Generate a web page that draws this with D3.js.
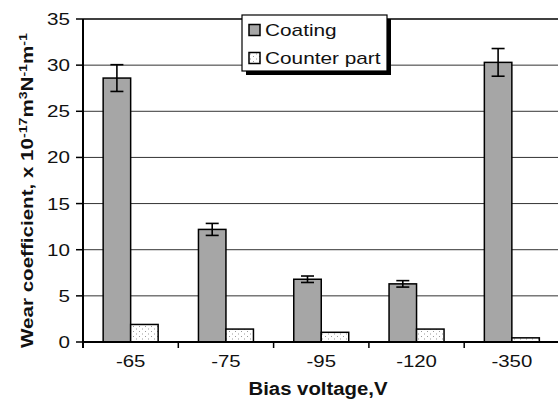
<!DOCTYPE html>
<html>
<head>
<meta charset="utf-8">
<script src="https://cdn.jsdelivr.net/npm/d3@7"></script>
<style>
  body { margin: 0; background: #fff; }
  svg { display: block; }
  text { font-family: "Liberation Sans", Arial, sans-serif; fill: #111; }
</style>
</head>
<body>
<svg id="chart" width="558" height="400"></svg>
<script>
const categories = ["-65", "-75", "-95", "-120", "-350"];
const seriesNames = ["Coating", "Counter part"];
const coating = [28.6, 12.2, 6.8, 6.3, 30.3];
const coatingErr = [1.45, 0.65, 0.35, 0.35, 1.5];
const counterPart = [1.9, 1.4, 1.05, 1.4, 0.45];
const yTicks = [0, 5, 10, 15, 20, 25, 30, 35];

(function () {
const svg = d3.select("#chart");
const pl = 83, pr = 559.5, pt = 19, pb = 342;

const defs = svg.append("defs");
const pat = defs.append("pattern").attr("id", "dots").attr("patternUnits", "userSpaceOnUse")
  .attr("width", 6).attr("height", 5);
pat.append("rect").attr("width", 6).attr("height", 5).attr("fill", "#fff");
pat.append("rect").attr("x", 1).attr("y", 1).attr("width", 1).attr("height", 1).attr("fill", "#999");
pat.append("rect").attr("x", 4).attr("y", 3.5).attr("width", 1).attr("height", 1).attr("fill", "#999");

const x = d3.scaleBand().domain(categories).range([pl, pr]).paddingInner(0).paddingOuter(0);
const xs = d3.scaleBand().domain(seriesNames).range([0, x.bandwidth()]).paddingInner(0).paddingOuter(0.733);
const y = d3.scaleLinear().domain([0, 35]).range([pb, pt]);

svg.append("g").selectAll("line").data(yTicks.filter(t => t > 0 && t < 35)).join("line")
  .attr("x1", pl).attr("x2", pr).attr("y1", d => y(d)).attr("y2", d => y(d))
  .attr("stroke", "#333").attr("stroke-width", 1);
svg.append("line").attr("x1", pl).attr("x2", pr).attr("y1", y(35)).attr("y2", y(35))
  .attr("stroke", "#000").attr("stroke-width", 1.5);

const data = categories.map((c, i) => ({ c, coating: coating[i], err: coatingErr[i], cp: counterPart[i] }));
const g = svg.append("g");
g.selectAll("rect.coat").data(data).join("rect").attr("class", "coat")
  .attr("x", d => x(d.c) + xs("Coating")).attr("width", xs.bandwidth())
  .attr("y", d => y(d.coating)).attr("height", d => y(0) - y(d.coating))
  .attr("fill", "#a6a6a6").attr("stroke", "#000").attr("stroke-width", 1.5);
g.selectAll("rect.cp").data(data).join("rect").attr("class", "cp")
  .attr("x", d => x(d.c) + xs("Counter part")).attr("width", xs.bandwidth())
  .attr("y", d => y(d.cp)).attr("height", d => y(0) - y(d.cp))
  .attr("fill", "url(#dots)").attr("stroke", "#000").attr("stroke-width", 1.5);

const eb = svg.append("g").attr("stroke", "#000").attr("stroke-width", 1.6);
data.forEach(d => {
  const cx = x(d.c) + xs("Coating") + xs.bandwidth() / 2;
  eb.append("line").attr("x1", cx).attr("x2", cx).attr("y1", y(d.coating + d.err)).attr("y2", y(d.coating - d.err));
  [d.coating + d.err, d.coating - d.err].forEach(v => {
    eb.append("line").attr("x1", cx - 6.5).attr("x2", cx + 6.5).attr("y1", y(v)).attr("y2", y(v));
  });
});

svg.append("line").attr("x1", pl).attr("x2", pl).attr("y1", pt).attr("y2", pb + 6)
  .attr("stroke", "#000").attr("stroke-width", 2);
svg.append("g").selectAll("line").data(yTicks).join("line")
  .attr("x1", pl - 7).attr("x2", pl).attr("y1", d => y(d)).attr("y2", d => y(d))
  .attr("stroke", "#000").attr("stroke-width", 1.5);
svg.append("g").selectAll("text").data(yTicks).join("text")
  .attr("transform", d => `translate(70,${y(d) + 6}) scale(1.25,1)`)
  .attr("text-anchor", "end").attr("font-size", 16.5).text(d => d);

svg.append("line").attr("x1", pl).attr("x2", pr).attr("y1", pb).attr("y2", pb)
  .attr("stroke", "#000").attr("stroke-width", 2);
svg.append("g").selectAll("line").data(categories.slice(1)).join("line")
  .attr("x1", d => x(d)).attr("x2", d => x(d)).attr("y1", pb).attr("y2", pb + 6)
  .attr("stroke", "#000").attr("stroke-width", 1.5);
svg.append("g").selectAll("text").data(categories).join("text")
  .attr("transform", d => `translate(${x(d) + x.bandwidth() / 2},367) scale(1.2,1)`)
  .attr("text-anchor", "middle").attr("font-size", 17).text(d => d);

svg.append("text").attr("transform", "translate(318,395) scale(1.1,1)")
  .attr("text-anchor", "middle").attr("font-size", 18.5).attr("font-weight", "bold")
  .text("Bias voltage,V");

const yl = svg.append("text").attr("font-size", 16).attr("font-weight", "bold").attr("text-anchor", "start");
yl.append("tspan").text("Wear coefficient, x 10");
yl.append("tspan").attr("dy", -6).attr("font-size", 11).text("-17");
yl.append("tspan").attr("dy", 6).text("m");
yl.append("tspan").attr("dy", -6).attr("font-size", 11).text("3");
yl.append("tspan").attr("dy", 6).text("N");
yl.append("tspan").attr("dy", -6).attr("font-size", 11).text("-1");
yl.append("tspan").attr("dy", 6).text("m");
yl.append("tspan").attr("dy", -6).attr("font-size", 11).text("-1");
const len = yl.node().getComputedTextLength();
const sx = 315 / len;
yl.attr("transform", `translate(33,348) rotate(-90) scale(${sx},1)`);

const lg = svg.append("g");
lg.append("rect").attr("x", 246).attr("y", 19).attr("width", 145).attr("height", 56).attr("fill", "#000");
lg.append("rect").attr("x", 242).attr("y", 15).attr("width", 145).attr("height", 56)
  .attr("fill", "#fff").attr("stroke", "#000").attr("stroke-width", 1.2);
const fills = ["#a6a6a6", "url(#dots)"];
seriesNames.forEach((s, i) => {
  const cy = 30 + i * 28;
  lg.append("rect").attr("x", 249).attr("y", cy - 5.5).attr("width", 11).attr("height", 11)
    .attr("fill", fills[i]).attr("stroke", "#000").attr("stroke-width", 1.5);
  lg.append("text").attr("transform", `translate(265,${cy + 6}) scale(1.3,1)`)
    .attr("font-size", 16).text(s);
});
})();
</script>
</body>
</html>
